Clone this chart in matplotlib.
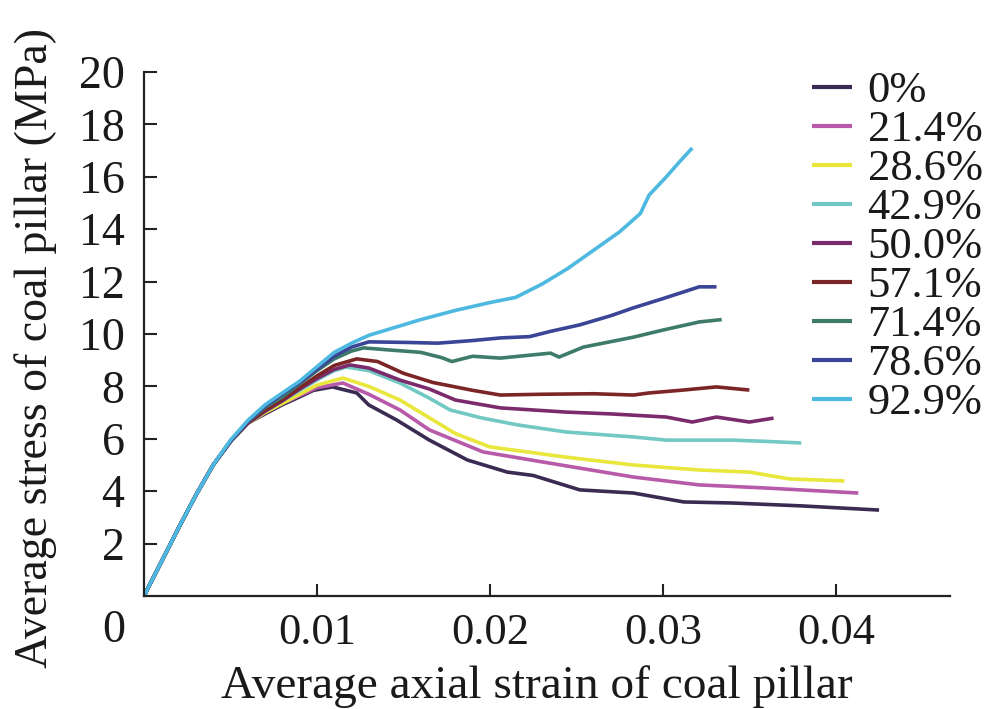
import matplotlib
matplotlib.use("Agg")
import matplotlib.pyplot as plt

plt.rcParams['font.family'] = ['Liberation Serif', 'DejaVu Serif']

labels = ["0%", "21.4%", "28.6%", "42.9%", "50.0%", "57.1%", "71.4%", "78.6%", "92.9%"]
colors = ["#3b2b52", "#b85aaa", "#e9e63c", "#72c9c4", "#7b2a6c", "#7c2526", "#3f7b6b", "#3b4597", "#4db9e0"]

x_0 = [0, 0.001, 0.002, 0.003, 0.004, 0.005, 0.006, 0.007, 0.008, 0.009, 0.0098, 0.0109, 0.0123, 0.013, 0.0146, 0.0165, 0.0187, 0.021, 0.0225, 0.0252, 0.0283, 0.0312, 0.034, 0.038, 0.0425]
y_0 = [0, 1.3, 2.6, 3.85, 5.0, 5.9, 6.6, 6.95, 7.3, 7.6, 7.85, 7.98, 7.75, 7.29, 6.72, 5.95, 5.19, 4.73, 4.6, 4.05, 3.93, 3.59, 3.55, 3.44, 3.28]

x_214 = [0, 0.001, 0.002, 0.003, 0.004, 0.005, 0.006, 0.007, 0.008, 0.009, 0.01, 0.0115, 0.013, 0.0148, 0.0165, 0.0196, 0.0231, 0.0283, 0.0321, 0.036, 0.0413]
y_214 = [0, 1.3, 2.6, 3.85, 5.0, 5.9, 6.6, 7.0, 7.35, 7.65, 7.95, 8.13, 7.7, 7.1, 6.34, 5.5, 5.11, 4.54, 4.24, 4.12, 3.93]

x_286 = [0, 0.001, 0.002, 0.003, 0.004, 0.005, 0.006, 0.007, 0.008, 0.009, 0.01, 0.0115, 0.013, 0.0148, 0.0165, 0.018, 0.02, 0.0244, 0.0283, 0.0321, 0.035, 0.0373, 0.0405]
y_286 = [0, 1.3, 2.6, 3.85, 5.0, 5.9, 6.6, 7.0, 7.35, 7.7, 8.05, 8.32, 8.0, 7.48, 6.8, 6.2, 5.69, 5.3, 5.0, 4.81, 4.73, 4.47, 4.39]

x_429 = [0, 0.001, 0.002, 0.003, 0.004, 0.005, 0.006, 0.007, 0.008, 0.009, 0.01, 0.011, 0.0117, 0.013, 0.0148, 0.0165, 0.0177, 0.0195, 0.0216, 0.0244, 0.0283, 0.0302, 0.034, 0.036, 0.038]
y_429 = [0, 1.3, 2.6, 3.85, 5.0, 5.9, 6.6, 7.05, 7.45, 7.85, 8.25, 8.6, 8.74, 8.6, 8.13, 7.55, 7.1, 6.8, 6.53, 6.26, 6.07, 5.95, 5.95, 5.9, 5.84]

x_500 = [0, 0.001, 0.002, 0.003, 0.004, 0.005, 0.006, 0.007, 0.008, 0.009, 0.01, 0.011, 0.0119, 0.013, 0.0148, 0.0165, 0.018, 0.0206, 0.0244, 0.027, 0.0302, 0.0317, 0.0331, 0.035, 0.0364]
y_500 = [0, 1.3, 2.6, 3.85, 5.0, 5.9, 6.6, 7.05, 7.45, 7.9, 8.3, 8.65, 8.82, 8.7, 8.24, 7.9, 7.48, 7.18, 7.02, 6.95, 6.83, 6.64, 6.83, 6.64, 6.79]

x_571 = [0, 0.001, 0.002, 0.003, 0.004, 0.005, 0.006, 0.007, 0.008, 0.009, 0.01, 0.011, 0.0123, 0.0135, 0.015, 0.0167, 0.019, 0.0206, 0.023, 0.026, 0.0283, 0.0292, 0.031, 0.0331, 0.035]
y_571 = [0, 1.3, 2.6, 3.85, 5.0, 5.9, 6.6, 7.1, 7.5, 7.95, 8.4, 8.8, 9.05, 8.95, 8.5, 8.15, 7.85, 7.67, 7.7, 7.72, 7.67, 7.75, 7.85, 7.98, 7.86]

x_714 = [0, 0.001, 0.002, 0.003, 0.004, 0.005, 0.006, 0.007, 0.008, 0.009, 0.01, 0.011, 0.012, 0.0127, 0.014, 0.016, 0.0172, 0.0178, 0.019, 0.0206, 0.0235, 0.024, 0.0254, 0.0283, 0.03, 0.0321, 0.0334]
y_714 = [0, 1.3, 2.6, 3.85, 5.0, 5.9, 6.65, 7.2, 7.6, 8.1, 8.6, 9.05, 9.35, 9.47, 9.4, 9.3, 9.1, 8.95, 9.15, 9.08, 9.27, 9.12, 9.5, 9.88, 10.15, 10.46, 10.55]

x_786 = [0, 0.001, 0.002, 0.003, 0.004, 0.005, 0.006, 0.007, 0.008, 0.009, 0.01, 0.011, 0.012, 0.013, 0.015, 0.017, 0.019, 0.0206, 0.0223, 0.0235, 0.0252, 0.027, 0.0283, 0.03, 0.0321, 0.0331]
y_786 = [0, 1.3, 2.6, 3.85, 5.0, 5.9, 6.65, 7.25, 7.7, 8.15, 8.65, 9.15, 9.5, 9.7, 9.68, 9.65, 9.75, 9.85, 9.9, 10.1, 10.35, 10.7, 11.0, 11.35, 11.8, 11.8]

x_929 = [0, 0.001, 0.002, 0.003, 0.004, 0.005, 0.006, 0.007, 0.008, 0.009, 0.01, 0.011, 0.012, 0.013, 0.014, 0.016, 0.018, 0.02, 0.0215, 0.023, 0.0245, 0.026, 0.0275, 0.0287, 0.0292, 0.0302, 0.031, 0.0317]
y_929 = [0, 1.3, 2.6, 3.85, 5.0, 5.95, 6.7, 7.3, 7.75, 8.2, 8.75, 9.3, 9.65, 9.95, 10.15, 10.55, 10.9, 11.2, 11.4, 11.9, 12.5, 13.2, 13.9, 14.6, 15.3, 16.0, 16.6, 17.1]

xs = [x_0, x_214, x_286, x_429, x_500, x_571, x_714, x_786, x_929]
ys = [y_0, y_214, y_286, y_429, y_500, y_571, y_714, y_786, y_929]

x_ticks = [0.01, 0.02, 0.03, 0.04]
x_ticklabels = ["0.01", "0.02", "0.03", "0.04"]
y_ticks = [2, 4, 6, 8, 10, 12, 14, 16, 18, 20]
y_ticklabels = ["2", "4", "6", "8", "10", "12", "14", "16", "18", "20"]

W, H = 994, 709
fig = plt.figure(figsize=(W / 100, H / 100), dpi=100)
ax = fig.add_axes([144 / W, 1 - 596 / H, (950 - 144) / W, (596 - 72) / H])

for x, y, c, lab in zip(xs, ys, colors, labels):
    ax.plot(x, y, color=c, lw=2.6, label=lab, solid_capstyle='butt')

ax.set_xlim(0, 0.0466)
ax.set_ylim(0, 20)
ax.spines['top'].set_visible(False)
ax.spines['right'].set_visible(False)
for s in ['left', 'bottom']:
    ax.spines[s].set_linewidth(1.6)
    ax.spines[s].set_color('#222222')
ax.set_xticks(x_ticks)
ax.set_xticklabels(x_ticklabels)
ax.set_yticks(y_ticks)
ax.set_yticklabels(y_ticklabels)
ax.tick_params(axis='both', direction='in', length=9, width=1.5, colors='#222222', labelcolor='#1a1a1a')
ax.tick_params(axis='y', labelsize=33, pad=14)
ax.tick_params(axis='x', labelsize=32, pad=12)

fig.text(114 / W, 1 - 631 / H, "0", fontsize=33, ha='center', va='center', color='#1a1a1a')
fig.text(537 / W, 1 - 698 / H, "Average axial strain of coal pillar", fontsize=34,
         ha='center', va='baseline', color='#1a1a1a')
fig.text(36 / W, 1 - 348 / H, "Average stress of coal pillar (MPa)", fontsize=33,
         ha='center', va='center', rotation=90, color='#1a1a1a')

leg = ax.legend(loc='upper left', bbox_to_anchor=(812 / W, 1 - 71 / H), bbox_transform=fig.transFigure,
                frameon=False, fontsize=32, handlelength=0.9, handletextpad=0.35,
                labelspacing=-0.025, borderpad=0, borderaxespad=0)
for t in leg.get_texts():
    t.set_color('#1a1a1a')
for l in leg.get_lines():
    l.set_linewidth(3.0)

fig.savefig("out.png", dpi=100)
